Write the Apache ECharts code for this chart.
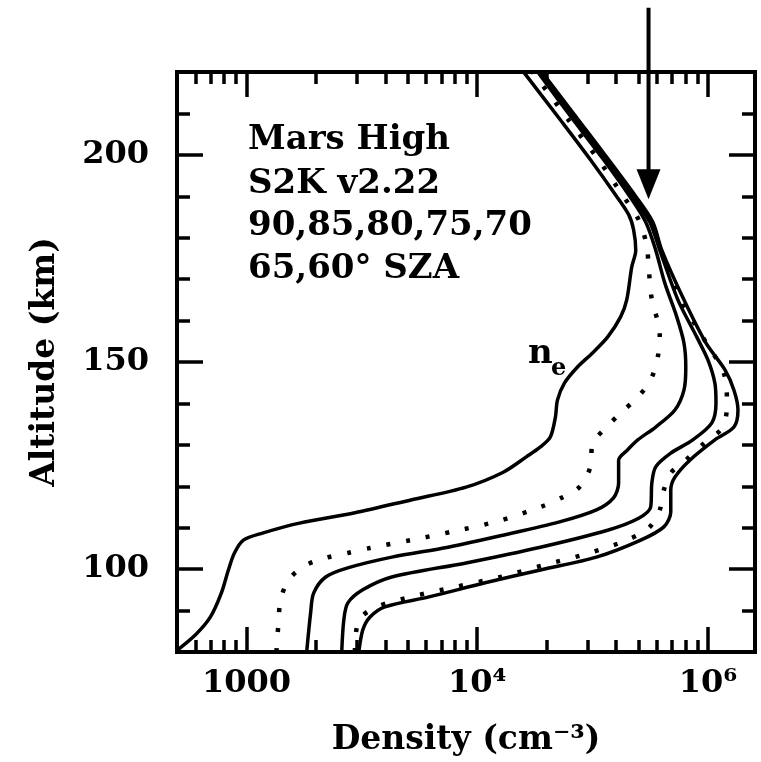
<!DOCTYPE html>
<html><head><meta charset="utf-8">
<script src="https://cdn.jsdelivr.net/npm/echarts@6/dist/echarts.min.js"></script>
<style>html,body{margin:0;padding:0;background:#fff}#c{width:761px;height:762px}</style>
</head><body><div id="c"></div>
<script>
// ---- tick definitions ----
const altitudeTicksMajor = [100, 150, 200];
const altitudeTicksMinor = [90, 110, 120, 130, 140, 160, 170, 180, 190, 210];
const densityTicksMajor = [1000, 10000, 100000];
const densityTickLabels = ['1000', '10⁴', '10⁶'];
const densityTicksMinor = [600, 700, 800, 900, 2000, 3000, 4000, 5000, 6000, 7000, 8000, 9000,
  20000, 30000, 40000, 50000, 60000, 70000, 80000, 90000];

// ---- annotation text ----
const infoLines = ['Mars High', 'S2K v2.22', '90,85,80,75,70', '65,60° SZA'];

// ---- curves: electron density (cm^-3) vs altitude (km) ----
const sza90Density = [490, 600, 697, 778, 835, 887, 970, 1174, 1698, 2951, 5164, 8954, 12970, 16330, 18790, 20750, 21830, 22280, 23880, 27210, 31620, 36730, 41850, 44480, 46750, 48670, 47640, 45400, 39810, 30970, 22960, 16000];
const sza90Altitude = [80.0, 84.1, 88.4, 94.2, 99.8, 103.9, 107.0, 108.7, 111.1, 113.6, 116.7, 119.8, 123.4, 127.1, 129.5, 131.9, 136.7, 140.8, 144.9, 148.8, 152.2, 156.0, 160.9, 165.0, 172.9, 177.0, 181.9, 185.5, 190.3, 198.8, 208.4, 219.8];

const sza85Density = [1349, 1377, 1406, 1523, 1786, 2204, 2748, 3425, 5164, 8017, 12330, 18790, 23180, 27730, 30970, 31620, 35320, 41850, 49650, 56490, 60640, 61850, 57150, 55340, 54290, 50120, 42660, 33570, 24890, 17500];
const sza85Altitude = [80.0, 87.2, 92.6, 97.4, 100.8, 102.7, 103.9, 105.1, 107.0, 109.2, 111.6, 115.0, 117.2, 119.8, 124.7, 130.4, 133.6, 137.7, 141.5, 145.7, 151.2, 157.0, 165.0, 172.9, 178.2, 184.3, 190.3, 198.8, 208.4, 219.8];

const sza80Density = [1824, 1897, 1955, 2204, 2748, 4266, 7482, 12970, 22750, 32880, 38990, 41020, 41020, 44870, 49650, 59400, 71940, 78730, 80200, 78730, 73280, 65010, 59400, 53740, 45400, 35320, 26120, 18410];
const sza80Altitude = [80.0, 89.4, 94.2, 98.1, 100.3, 102.9, 105.3, 108.2, 111.4, 114.3, 117.2, 120.8, 126.3, 128.8, 131.2, 134.3, 138.4, 143.2, 148.8, 154.6, 160.9, 169.1, 177.0, 183.8, 190.3, 198.8, 208.4, 219.8];

const sza75Density = [2588, 2642, 2748, 3192, 4266, 8954, 18790, 36730, 50120, 56490, 57150, 59400, 69040, 86000, 104000, 108400, 107200, 100000, 89540, 74130, 61850, 55980, 46750, 36370, 26900, 18790];
const sza75Altitude = [80.0, 87.7, 91.8, 95.0, 98.1, 101.5, 105.3, 109.4, 112.3, 115.0, 120.8, 124.7, 128.0, 131.2, 135.3, 140.1, 144.9, 150.5, 156.0, 165.0, 177.0, 183.8, 190.3, 198.8, 208.4, 219.8];

const sza70Density = [2951, 3069, 3672, 5164, 8017, 12590, 19540, 30690, 44480, 55340, 61850, 64420, 69040, 80200, 96160, 116100, 120900, 118600, 95000, 76380, 62480, 56490, 47230, 36730, 27210, 18970];
const sza70Altitude = [80.0, 87.7, 90.9, 93.3, 95.7, 98.1, 101.0, 103.9, 107.0, 109.9, 114.3, 119.1, 123.2, 126.3, 130.4, 134.3, 140.1, 146.4, 156.0, 165.0, 177.0, 183.8, 190.3, 198.8, 208.4, 219.8];

const sza65Density = [3069, 3192, 3425, 3981, 6180, 10830, 18790, 32880, 51150, 64420, 69040, 69040, 71940, 83510, 107200, 129700, 135000, 129700, 118600, 98000, 78730, 63100, 57680, 48190, 37150, 27480, 19190];
const sza65Altitude = [80.0, 85.3, 88.4, 90.9, 93.3, 96.7, 99.8, 102.9, 107.0, 110.2, 113.8, 119.1, 122.2, 126.3, 131.2, 134.3, 138.4, 143.2, 148.1, 154.6, 165.0, 177.0, 183.8, 190.3, 198.8, 208.4, 219.8];

// arrow annotation (data space): density, altitude top, altitude tip
const arrowDensity = 55300;
const arrowAltitudes = [235.5, 189.3];

const densityRange = [500, 160000];
const altitudeRange = [80, 220];

const FONT = 'DejaVu Serif';
const pair = (xs, ys) => xs.map((x, i) => [x, ys[i]]);

const curves = [
  { name: '90', d: sza90Density, a: sza90Altitude, dotted: false },
  { name: '85', d: sza85Density, a: sza85Altitude, dotted: true },
  { name: '80', d: sza80Density, a: sza80Altitude, dotted: false },
  { name: '75', d: sza75Density, a: sza75Altitude, dotted: false },
  { name: '70', d: sza70Density, a: sza70Altitude, dotted: true },
  { name: '65', d: sza65Density, a: sza65Altitude, dotted: false }
];

function labelFor(v) {
  const i = densityTicksMajor.findIndex(t => Math.abs(Math.log10(t) - Math.log10(v)) < 0.01);
  return i >= 0 ? densityTickLabels[i] : '';
}

function xAxisDef(pos, ticks, len, withLabels) {
  return {
    type: 'log', logBase: 10, position: pos, min: densityRange[0], max: densityRange[1],
    axisLine: { show: false }, splitLine: { show: false }, minorTick: { show: false },
    axisTick: { show: true, inside: true, length: len, customValues: ticks, lineStyle: { color: '#000', width: 3.5 } },
    axisLabel: withLabels ? {
      show: true, customValues: densityTicksMajor, formatter: labelFor, margin: 16,
      fontFamily: FONT, fontWeight: 'bold', fontSize: 32, color: '#000'
    } : { show: false }
  };
}
function yAxisDef(pos, ticks, len, withLabels) {
  return {
    type: 'value', position: pos, min: altitudeRange[0], max: altitudeRange[1],
    axisLine: { show: false }, splitLine: { show: false },
    axisTick: { show: true, inside: true, length: len, customValues: ticks, lineStyle: { color: '#000', width: 3.5 } },
    axisLabel: withLabels ? {
      show: true, customValues: altitudeTicksMajor, margin: 28,
      fontFamily: FONT, fontWeight: 'bold', fontSize: 32, color: '#000'
    } : { show: false }
  };
}

const xMain = xAxisDef('bottom', densityTicksMajor, 25, true);
xMain.name = 'Density (cm⁻³)';
xMain.nameLocation = 'middle';
xMain.nameGap = 72;
xMain.nameTextStyle = { fontFamily: FONT, fontWeight: 'bold', fontSize: 33, color: '#000' };

const yMain = yAxisDef('left', altitudeTicksMajor, 26, true);
yMain.name = 'Altitude (km)';
yMain.nameLocation = 'middle';
yMain.nameGap = 115;
yMain.nameRotate = 90;
yMain.nameTextStyle = { fontFamily: FONT, fontWeight: 'bold', fontSize: 33, color: '#000' };

const chart = echarts.init(document.getElementById('c'), null, { renderer: 'canvas' });

const option = {
  animation: false,
  backgroundColor: '#fff',
  grid: { left: 177, right: 6, top: 72, bottom: 110, show: true, borderColor: '#000', borderWidth: 4, backgroundColor: 'transparent' },
  xAxis: [
    xMain,
    xAxisDef('bottom', densityTicksMinor, 12, false),
    xAxisDef('top', densityTicksMajor, 25, false),
    xAxisDef('top', densityTicksMinor, 12, false)
  ],
  yAxis: [
    yMain,
    yAxisDef('left', altitudeTicksMinor, 13, false),
    yAxisDef('right', altitudeTicksMajor, 26, false),
    yAxisDef('right', altitudeTicksMinor, 13, false)
  ],
  series: curves.map(c => ({
    type: 'line', name: c.name, xAxisIndex: 0, yAxisIndex: 0,
    data: pair(c.d, c.a), showSymbol: false, symbol: 'none', smooth: 0.3,
    clip: true,
    lineStyle: c.dotted ? { color: '#000', width: 4.5, type: [4, 16], cap: 'butt' } : { color: '#000', width: 3.5 }
  }))
};
chart.setOption(option);

// annotations
const arrowTopPx = chart.convertToPixel({ seriesIndex: 0 }, [arrowDensity, arrowAltitudes[0]]);
const arrowTipPx = chart.convertToPixel({ seriesIndex: 0 }, [arrowDensity, arrowAltitudes[1]]);
const headLen = 30, headHalf = 12;
const makeText = (t, x, y, size) => ({ type: 'text', style: { text: t, x: x, y: y, font: 'bold ' + size + 'px "' + FONT + '"', fill: '#000', verticalAlign: 'middle', align: 'left' } });

chart.setOption({
  graphic: [
    { type: 'line', shape: { x1: arrowTopPx[0], y1: arrowTopPx[1], x2: arrowTipPx[0], y2: arrowTipPx[1] - headLen + 2 }, style: { stroke: '#000', lineWidth: 4 } },
    { type: 'polygon', shape: { points: [[arrowTipPx[0] - headHalf, arrowTipPx[1] - headLen], [arrowTipPx[0] + headHalf, arrowTipPx[1] - headLen], [arrowTipPx[0], arrowTipPx[1]]] }, style: { fill: '#000' } },
    makeText(infoLines[0], 248, 140, 34),
    makeText(infoLines[1], 248, 184, 34),
    makeText(infoLines[2], 248, 226, 34),
    makeText(infoLines[3], 248, 269, 34),
    makeText('n', 528, 354, 34),
    makeText('e', 551, 369, 24)
  ]
});
</script></body></html>
